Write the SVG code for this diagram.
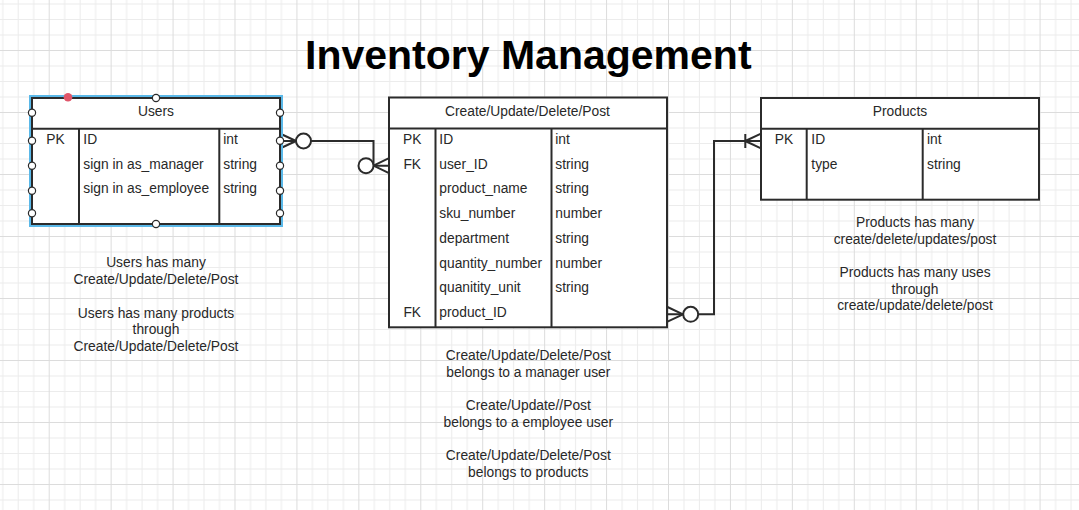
<svg xmlns="http://www.w3.org/2000/svg" width="1079" height="510" viewBox="0 0 1079 510">
<style>
  text { font-family: "Liberation Sans", Arial, sans-serif; font-size: 13.8px; fill: #282828; }
  .title { font-size: 41px; font-weight: bold; fill: #000; }
  .c { text-anchor: middle; }
  .box { fill: #fff; stroke: #2b2b2b; stroke-width: 2; }
  .ln { stroke: #2b2b2b; stroke-width: 2; fill: none; }
  .conn { stroke: #2b2b2b; stroke-width: 2; fill: none; }
  .ring { fill: #fff; stroke: #2b2b2b; stroke-width: 2; }
  .handle { fill: #fff; stroke: #2b2b2b; stroke-width: 1.2; }
</style>
<defs>
  <pattern id="grid" patternUnits="userSpaceOnUse" x="48.7" y="50" width="61.93" height="62">
    <rect x="0" y="0" width="61.93" height="62" fill="#fff"/>
    <g fill="#ececec">
      <rect x="15.48" y="0" width="1" height="62"/>
      <rect x="30.96" y="0" width="1" height="62"/>
      <rect x="46.45" y="0" width="1" height="62"/>
      <rect x="0" y="15.5" width="61.93" height="1"/>
      <rect x="0" y="31" width="61.93" height="1"/>
      <rect x="0" y="46.5" width="61.93" height="1"/>
    </g>
    <g fill="#dcdcdc">
      <rect x="0" y="0" width="1" height="62"/>
      <rect x="0" y="0" width="61.93" height="1"/>
    </g>
  </pattern>
</defs>
<rect width="1079" height="510" fill="url(#grid)"/>

<text class="title c" x="528.3" y="69.3">Inventory Management</text>

<g id="connectors">
  <g id="users-to-cudp">
    <path class="conn" d="M281,141 H373.5 V165.7 H389"/>
    <path class="conn" d="M281,134 L296,141 M281,148 L296,141"/>
    <circle class="ring" cx="303.5" cy="141" r="7.5"/>
    <circle class="ring" cx="366" cy="165.7" r="7.5"/>
    <path class="conn" d="M373.5,165.7 L389,158.2 M373.5,165.7 L389,173.2"/>
  </g>
  <g id="cudp-to-products">
    <path class="conn" d="M667,314.3 H714 V141 H761"/>
    <path class="conn" d="M683,314.3 L667.5,307 M683,314.3 L667.5,321.7"/>
    <circle class="ring" cx="690.7" cy="314.3" r="7.5"/>
    <path class="conn" d="M745.3,134 V148 M745.3,141 L761,133.7 M745.3,141 L761,148.3"/>
  </g>
</g>

<g id="users">
  <rect x="30.5" y="96.5" width="251" height="129" fill="none" stroke="#5ab8e8" stroke-width="3"/>
  <rect class="box" x="32" y="98" width="248" height="126"/>
  <path class="ln" d="M32,128.7 H280 M79,128.7 V224 M219.3,128.7 V224"/>
  <text class="c" x="156" y="116">Users</text>
  <text class="c" x="55.5" y="144">PK</text>
  <text x="83.3" y="144">ID</text>
  <text x="223.3" y="144">int</text>
  <text x="83.3" y="168.7">sign in as_manager</text>
  <text x="223.3" y="168.7">string</text>
  <text x="83.3" y="193.4">sign in as_employee</text>
  <text x="223.3" y="193.4">string</text>
  <g class="handles">
    <circle class="handle" cx="32" cy="112.7" r="3.6"/>
    <circle class="handle" cx="32" cy="140.7" r="3.6"/>
    <circle class="handle" cx="32" cy="165.7" r="3.6"/>
    <circle class="handle" cx="32" cy="190.7" r="3.6"/>
    <circle class="handle" cx="32" cy="213.3" r="3.6"/>
    <circle class="handle" cx="280" cy="112.7" r="3.6"/>
    <circle class="handle" cx="280" cy="140.7" r="3.6"/>
    <circle class="handle" cx="280" cy="165.7" r="3.6"/>
    <circle class="handle" cx="280" cy="190.7" r="3.6"/>
    <circle class="handle" cx="280" cy="213.3" r="3.6"/>
    <circle class="handle" cx="156" cy="98" r="3.6"/>
    <circle class="handle" cx="156" cy="224" r="3.6"/>
    <circle cx="68" cy="97.2" r="4.3" fill="#e0566a"/>
  </g>
</g>

<g id="cudp">
  <rect class="box" x="389" y="97.5" width="278" height="229.8"/>
  <path class="ln" d="M389,128.5 H667 M435.5,128.5 V327.3 M551.5,128.5 V327.3"/>
  <text class="c" x="527.5" y="116">Create/Update/Delete/Post</text>
  <text class="c" x="412.2" y="144">PK</text>
  <text x="439.3" y="144">ID</text>
  <text x="555.3" y="144">int</text>
  <text class="c" x="412.2" y="168.7">FK</text>
  <text x="439.3" y="168.7">user_ID</text>
  <text x="555.3" y="168.7">string</text>
  <text x="439.3" y="193.4">product_name</text>
  <text x="555.3" y="193.4">string</text>
  <text x="439.3" y="218.1">sku_number</text>
  <text x="555.3" y="218.1">number</text>
  <text x="439.3" y="242.8">department</text>
  <text x="555.3" y="242.8">string</text>
  <text x="439.3" y="267.5">quantity_number</text>
  <text x="555.3" y="267.5">number</text>
  <text x="439.3" y="292.2">quanitity_unit</text>
  <text x="555.3" y="292.2">string</text>
  <text class="c" x="412.2" y="316.9">FK</text>
  <text x="439.3" y="316.9">product_ID</text>
</g>

<g id="products">
  <rect class="box" x="761" y="98" width="278" height="101.7"/>
  <path class="ln" d="M761,128.7 H1039 M806.7,128.7 V199.7 M922.7,128.7 V199.7"/>
  <text class="c" x="900" y="116">Products</text>
  <text class="c" x="783.9" y="144">PK</text>
  <text x="811.3" y="144">ID</text>
  <text x="927" y="144">int</text>
  <text x="811.3" y="168.7">type</text>
  <text x="927" y="168.7">string</text>
</g>

<g id="users-notes">
  <text class="c" x="156" y="267.4">Users has many</text>
  <text class="c" x="156" y="284.1">Create/Update/Delete/Post</text>
  <text class="c" x="156" y="317.5">Users has many products</text>
  <text class="c" x="156" y="334.2">through</text>
  <text class="c" x="156" y="350.9">Create/Update/Delete/Post</text>
</g>

<g id="cudp-notes">
  <text class="c" x="528.3" y="360">Create/Update/Delete/Post</text>
  <text class="c" x="528.3" y="376.7">belongs to a manager user</text>
  <text class="c" x="528.3" y="410.1">Create/Update//Post</text>
  <text class="c" x="528.3" y="426.8">belongs to a employee user</text>
  <text class="c" x="528.3" y="460.2">Create/Update/Delete/Post</text>
  <text class="c" x="528.3" y="476.9">belongs to products</text>
</g>

<g id="products-notes">
  <text class="c" x="915" y="226.8">Products has many</text>
  <text class="c" x="915" y="243.5">create/delete/updates/post</text>
  <text class="c" x="915" y="276.9">Products has many uses</text>
  <text class="c" x="915" y="293.6">through</text>
  <text class="c" x="915" y="310.3">create/update/delete/post</text>
</g>
</svg>
